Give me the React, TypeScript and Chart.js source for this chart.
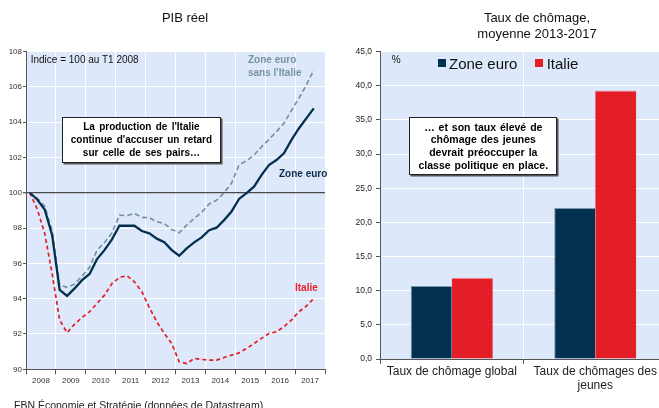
import React, { useEffect, useRef } from 'react';
import { Chart, registerables } from 'chart.js';

Chart.register(...registerables);

const FONT = "'Liberation Sans', Arial, Helvetica, sans-serif";
const NARROW = "'Liberation Sans Narrow', 'Arial Narrow', 'Liberation Sans', sans-serif";

const NAVY = '#03304f';
const RED = '#e31e26';
const GREYBLUE = '#7892a3';
const PLOT_BG = '#dde9fb';

// ---- Left chart: PIB réel (index 100 = T1 2008), quarterly T1 2008 .. T3 2017
const years = ['2008', '2009', '2010', '2011', '2012', '2013', '2014', '2015', '2016', '2017'];
const quarterLabels = years.flatMap((y) => ['T1', 'T2', 'T3', 'T4'].map((q) => `${q} ${y}`)).slice(0, 39);

const zoneEuro = [
  100, 99.62, 99.05, 97.6, 94.5, 94.16, 94.58, 95.05, 95.4, 96.24,
  96.75, 97.36, 98.13, 98.13, 98.13, 97.83, 97.7, 97.4, 97.2, 96.75,
  96.43, 96.85, 97.19, 97.47, 97.88, 98.02, 98.45, 98.94, 99.65, 99.98,
  100.34, 101.0, 101.57, 101.85, 102.23, 102.98, 103.64, 104.21, 104.78,
];
const zoneEuroSansItalie = [
  100, 99.7, 99.24, 97.85, 94.77, 94.64, 94.83, 95.28, 95.77, 96.75,
  97.17, 97.73, 98.73, 98.7, 98.83, 98.6, 98.58, 98.36, 98.26, 97.92,
  97.73, 98.17, 98.55, 98.89, 99.36, 99.58, 100.0, 100.55, 101.57, 101.81,
  102.13, 102.6, 103.02, 103.46, 103.93, 104.65, 105.34, 106.1, 106.95,
];
const italie = [
  100, 99.08, 97.7, 95.4, 92.79, 92.07, 92.56, 92.94, 93.26, 93.73,
  94.2, 94.86, 95.2, 95.3, 94.96, 94.39, 93.5, 92.69, 92.03, 91.46,
  90.42, 90.33, 90.61, 90.56, 90.52, 90.52, 90.67, 90.8, 90.93, 91.18,
  91.46, 91.75, 92.03, 92.12, 92.41, 92.79, 93.26, 93.58, 94.01,
];
const pibTicks = [90, 92, 94, 96, 98, 100, 102, 104, 106, 108];

// ---- Right chart: Taux de chômage, moyenne 2013-2017
const chomageCategories = [['Taux de chômage global'], ['Taux de chômages des', 'jeunes']];
const chomageZoneEuro = [10.7, 22.1];
const chomageItalie = [11.9, 39.3];
const chomageTicks = [0, 5, 10, 15, 20, 25, 30, 35, 40, 45];

const plotBg = {
  id: 'plotBg',
  beforeDraw(chart: any) {
    const { ctx, chartArea: a } = chart;
    ctx.save();
    ctx.fillStyle = PLOT_BG;
    ctx.fillRect(a.left, a.top, a.right - a.left, a.bottom - a.top);
    ctx.restore();
  },
};

const yearLabels = {
  id: 'yearLabels',
  afterDraw(chart: any) {
    const xs = chart.scales.x;
    const ctx = chart.ctx;
    ctx.save();
    ctx.font = `8px ${NARROW}`;
    ctx.fillStyle = '#333';
    ctx.textAlign = 'center';
    ctx.textBaseline = 'middle';
    years.forEach((y, k) => {
      ctx.fillText(y, xs.getPixelForValue(1.5 + 4 * k), xs.top + 11);
    });
    ctx.restore();
  },
};

function toPoints(arr: number[]) {
  return arr.map((v, i) => ({ x: i, y: v }));
}

function leftConfig(): any {
  return {
    type: 'line',
    data: {
      labels: quarterLabels,
      datasets: [
        {
          label: 'Zone euro',
          data: toPoints(zoneEuro),
          borderColor: NAVY,
          borderWidth: 2.3,
          pointRadius: 0,
          tension: 0,
        },
        {
          label: "Zone euro sans l'Italie",
          data: toPoints(zoneEuroSansItalie),
          borderColor: GREYBLUE,
          borderWidth: 1.7,
          borderDash: [5, 3],
          pointRadius: 0,
          tension: 0,
        },
        {
          label: 'Italie',
          data: toPoints(italie),
          borderColor: RED,
          borderWidth: 1.7,
          borderDash: [4, 3],
          pointRadius: 0,
          tension: 0,
        },
      ],
    },
    options: {
      animation: false,
      responsive: false,
      devicePixelRatio: 1,
      layout: { padding: { top: 51.5, right: 15, left: 0, bottom: 0 } },
      plugins: { legend: { display: false }, tooltip: { enabled: false } },
      scales: {
        x: {
          type: 'linear',
          min: -0.5,
          max: 39.5,
          afterBuildTicks: (s: any) => {
            s.ticks = years.concat(['end']).map((_, k) => ({ value: -0.5 + 4 * k }));
          },
          afterFit: (s: any) => {
            s.height = 30.7;
          },
          ticks: { autoSkip: false, callback: () => '', font: { size: 8, family: NARROW } },
          grid: { color: '#ffffff', lineWidth: 1, tickColor: '#555', tickLength: 5 },
          border: { color: '#555', width: 1 },
        },
        y: {
          min: 90,
          max: 108,
          afterBuildTicks: (s: any) => {
            s.ticks = pibTicks.map((v) => ({ value: v }));
          },
          afterFit: (s: any) => {
            s.width = 26;
          },
          ticks: { font: { size: 8, family: NARROW }, color: '#333', padding: 1 },
          grid: {
            color: (c: any) => (c.tick && c.tick.value === 100 ? '#4a4a4a' : '#ffffff'),
            lineWidth: (c: any) => (c.tick && c.tick.value === 100 ? 1.3 : 1),
            tickColor: '#555',
            tickLength: 3,
          },
          border: { color: '#555', width: 1 },
        },
      },
    },
    plugins: [plotBg, yearLabels],
  };
}

function rightConfig(): any {
  return {
    type: 'bar',
    data: {
      labels: chomageCategories,
      datasets: [
        {
          label: 'Zone euro',
          data: chomageZoneEuro,
          backgroundColor: NAVY,
          borderColor: '#7f97ad',
          borderWidth: { top: 1, left: 1, right: 0, bottom: 0 },
        },
        {
          label: 'Italie',
          data: chomageItalie,
          backgroundColor: RED,
          borderColor: '#f09096',
          borderWidth: { top: 1, left: 0, right: 0, bottom: 0 },
        },
      ],
    },
    options: {
      animation: false,
      responsive: false,
      devicePixelRatio: 1,
      layout: { padding: { top: 51.7, right: 8, left: 0, bottom: 0 } },
      plugins: { legend: { display: false }, tooltip: { enabled: false } },
      datasets: { bar: { categoryPercentage: 0.572, barPercentage: 1 } },
      scales: {
        x: {
          afterFit: (s: any) => {
            s.height = 41;
          },
          ticks: {
            font: { size: 12, family: FONT, lineHeight: 1.15 },
            color: '#222',
            padding: 1,
            maxRotation: 0,
            autoSkip: false,
          },
          grid: { color: '#ffffff', lineWidth: 1, tickColor: '#555', tickLength: 5, offset: true },
          border: { color: '#555', width: 1 },
        },
        y: {
          min: 0,
          max: 45,
          afterBuildTicks: (s: any) => {
            s.ticks = chomageTicks.map((v) => ({ value: v }));
          },
          afterFit: (s: any) => {
            s.width = 50;
          },
          ticks: {
            font: { size: 8.5, family: FONT },
            color: '#222',
            padding: 4,
            callback: (v: any) => Number(v).toFixed(1).replace('.', ','),
          },
          grid: { color: '#ffffff', lineWidth: 1, tickColor: '#555', tickLength: 4 },
          border: { color: '#555', width: 1 },
        },
      },
    },
    plugins: [plotBg],
  };
}

type TProps = {
  x: number;
  y: number;
  size: number;
  color?: string;
  weight?: number;
  center?: boolean;
  children: React.ReactNode;
};

function T({ x, y, size, color = '#111', weight = 400, center = false, children }: TProps) {
  return (
    <div
      style={{
        position: 'absolute',
        left: x,
        top: y,
        transform: center ? 'translate(-50%,-50%)' : 'translate(0,-50%)',
        fontSize: size,
        lineHeight: `${size}px`,
        color,
        fontWeight: weight,
        whiteSpace: 'nowrap',
      }}
    >
      {children}
    </div>
  );
}

const boxStyle = (x: number, y: number, w: number, h: number, size: number, lh: number): React.CSSProperties => ({
  position: 'absolute',
  left: x,
  top: y,
  width: w,
  height: h,
  boxSizing: 'border-box',
  background: '#fff',
  border: '1px solid #222',
  boxShadow: '1.5px 1.5px 0 #555',
  display: 'flex',
  alignItems: 'center',
  justifyContent: 'center',
  textAlign: 'center',
  fontWeight: 700,
  fontSize: size,
  lineHeight: `${lh}px`,
  color: '#000',
});

export default function App() {
  const leftRef = useRef<HTMLCanvasElement>(null);
  const rightRef = useRef<HTMLCanvasElement>(null);

  useEffect(() => {
    const c1 = new Chart(leftRef.current as HTMLCanvasElement, leftConfig());
    const c2 = new Chart(rightRef.current as HTMLCanvasElement, rightConfig());
    return () => {
      c1.destroy();
      c2.destroy();
    };
  }, []);

  return (
    <div
      style={{
        position: 'fixed',
        left: 0,
        top: 0,
        width: 659,
        height: 408,
        overflow: 'hidden',
        background: '#fff',
        fontFamily: FONT,
      }}
    >
      <canvas
        ref={leftRef}
        width={340}
        height={400}
        style={{ position: 'absolute', left: 0, top: 0, width: 340, height: 400 }}
      />
      <canvas
        ref={rightRef}
        width={345}
        height={400}
        style={{ position: 'absolute', left: 330, top: 0, width: 345, height: 400 }}
      />

      {/* Titles */}
      <T x={185} y={16.7} size={13} center>PIB réel</T>
      <T x={537} y={16.7} size={13} center>Taux de chômage,</T>
      <T x={537} y={33.3} size={13} center>moyenne 2013-2017</T>

      {/* Left chart annotations */}
      <T x={30.7} y={60} size={10}>Indice = 100 au T1 2008</T>
      <T x={248} y={60} size={10} weight={700} color={GREYBLUE}>Zone euro</T>
      <T x={248} y={72.5} size={10} weight={700} color={GREYBLUE}>sans l'Italie</T>
      <T x={279} y={173.7} size={10} weight={700} color="#0e2c50">Zone euro</T>
      <T x={295} y={288} size={10} weight={700} color="#ec2028">Italie</T>

      <div style={{ ...boxStyle(61.7, 116.7, 159.5, 46.6, 10, 13), wordSpacing: 1.5 }}>
        <div>
          La production de l'Italie
          <br />
          continue d'accuser un retard
          <br />
          sur celle de ses pairs…
        </div>
      </div>

      {/* Right chart annotations */}
      <T x={391.7} y={60} size={10}>%</T>
      <div style={{ position: 'absolute', left: 438.3, top: 59.2, width: 7.5, height: 7.5, background: NAVY }} />
      <T x={449} y={62.7} size={15}>Zone euro</T>
      <div style={{ position: 'absolute', left: 535, top: 59.2, width: 7.5, height: 7.5, background: RED }} />
      <T x={546.7} y={62.7} size={15}>Italie</T>

      <div style={{ ...boxStyle(409.3, 117.3, 148, 57.7, 10.5, 12.8), wordSpacing: 1 }}>
        <div>
          … et son taux élevé de
          <br />
          chômage des jeunes
          <br />
          devrait préoccuper la
          <br />
          classe politique en place.
        </div>
      </div>

      {/* Source */}
      <div
        style={{
          position: 'absolute',
          left: 14,
          top: 399.5,
          fontSize: 10.5,
          lineHeight: '10.5px',
          color: '#222',
          whiteSpace: 'nowrap',
        }}
      >
        FBN Économie et Stratégie (données de Datastream)
      </div>
    </div>
  );
}
